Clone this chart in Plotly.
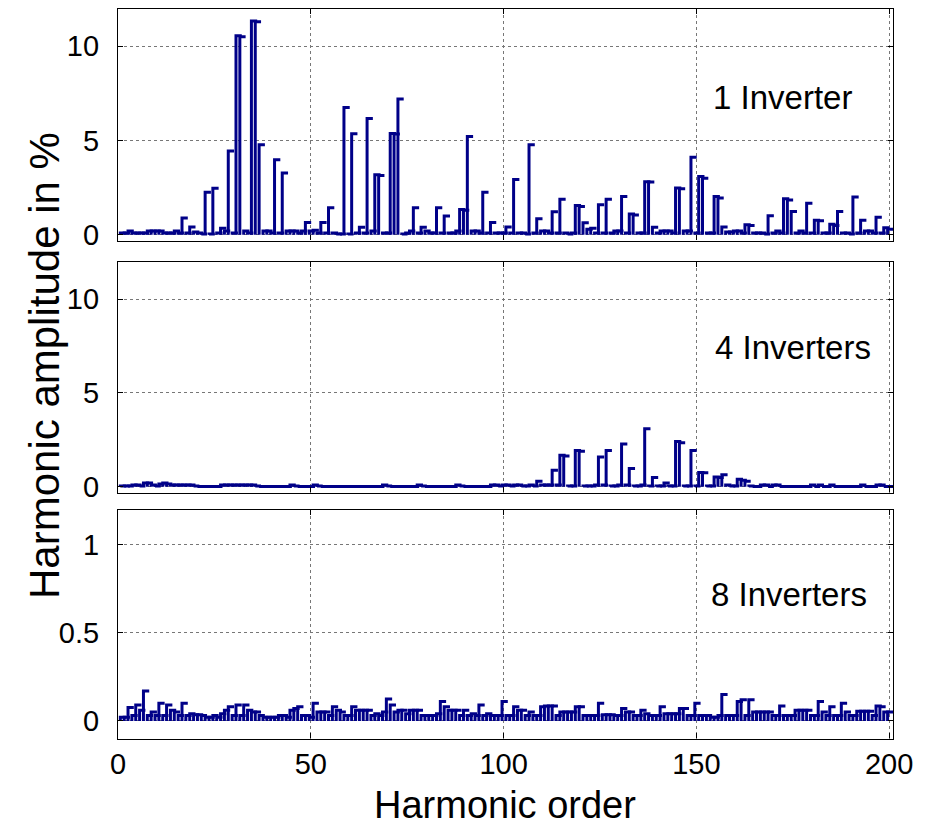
import plotly.graph_objects as go

harmonics = list(range(1, 201))

amp_1inv = [
    0.1, 0.1, 0.2, 0.1, 0.1, 0.1, 0.1, 0.2, 0.2, 0.2, 0.2, 0.1, 0.1, 0.1, 0.2, 0.1, 0.89, 0.1, 0.41, 0.15,
    0.1, 0.05, 2.26, 0.05, 2.47, 0.1, 0.35, 0.2, 4.44, 0.1, 10.56, 10.5, 0.2, 0.1, 11.34, 11.3, 4.78, 0.2, 0.2, 0.1,
    3.98, 0.1, 3.28, 0.2, 0.2, 0.2, 0.1, 0.2, 0.66, 0.2, 0.25, 0.1, 0.66, 0.1, 1.43, 0.1, 0.05, 0.05, 6.75, 0.05,
    5.36, 0.1, 0.4, 0.1, 6.17, 0.2, 3.19, 3.15, 0.1, 0.1, 5.37, 5.35, 7.2, 0.05, 0.1, 0.2, 1.43, 0.1, 0.4, 0.2,
    0.1, 0.1, 1.43, 0.1, 1.0, 0.1, 0.1, 0.2, 1.35, 1.3, 5.21, 0.2, 0.2, 0.1, 2.26, 0.1, 0.66, 0.1, 0.1, 0.1,
    0.41, 0.1, 2.93, 0.1, 0.1, 0.05, 4.78, 0.1, 0.85, 0.2, 0.2, 0.1, 1.22, 0.1, 1.89, 0.1, 0.05, 0.1, 1.56, 1.5,
    0.64, 0.3, 0.35, 0.1, 1.6, 0.1, 1.89, 0.1, 0.2, 0.2, 2.03, 0.1, 1.1, 1.05, 0.1, 0.1, 2.82, 2.8, 0.4, 0.1,
    0.2, 0.2, 0.2, 0.1, 2.49, 2.45, 0.2, 0.2, 4.11, 0.1, 3.09, 3.0, 0.1, 0.1, 2.03, 1.95, 0.41, 0.15, 0.15, 0.2,
    0.2, 0.1, 0.54, 0.5, 0.1, 0.1, 0.1, 0.05, 1.01, 0.1, 0.2, 0.1, 1.91, 1.85, 1.24, 0.1, 0.2, 0.1, 1.68, 0.1,
    0.77, 0.75, 0.1, 0.1, 0.56, 0.5, 1.24, 0.1, 0.1, 0.05, 2.0, 0.1, 0.77, 0.2, 0.2, 0.1, 0.93, 0.1, 0.38, 0.3,
]

amp_4inv = [
    0.05, 0.05, 0.05, 0.1, 0.1, 0.05, 0.2, 0.2, 0.1, 0.05, 0.15, 0.2, 0.15, 0.1, 0.1, 0.1, 0.1, 0.1, 0.1, 0.05,
    0.02, 0.02, 0.02, 0.02, 0.02, 0.02, 0.1, 0.1, 0.1, 0.1, 0.1, 0.1, 0.1, 0.1, 0.1, 0.05, 0.02, 0.02, 0.02, 0.02,
    0.02, 0.02, 0.02, 0.02, 0.1, 0.05, 0.02, 0.02, 0.02, 0.02, 0.1, 0.05, 0.02, 0.02, 0.02, 0.02, 0.02, 0.02, 0.02, 0.02,
    0.02, 0.02, 0.02, 0.02, 0.02, 0.02, 0.02, 0.02, 0.1, 0.05, 0.02, 0.02, 0.02, 0.02, 0.02, 0.02, 0.02, 0.1, 0.05, 0.02,
    0.02, 0.02, 0.02, 0.02, 0.02, 0.02, 0.02, 0.1, 0.05, 0.02, 0.02, 0.02, 0.02, 0.02, 0.02, 0.02, 0.1, 0.1, 0.05, 0.1,
    0.1, 0.05, 0.1, 0.1, 0.05, 0.05, 0.1, 0.05, 0.3, 0.1, 0.1, 0.1, 0.89, 0.1, 1.69, 1.65, 0.05, 0.05, 1.93, 1.9,
    0.05, 0.05, 0.05, 0.1, 1.59, 0.1, 1.93, 0.05, 0.05, 0.1, 2.28, 0.1, 0.98, 0.05, 0.05, 0.1, 3.09, 0.05, 0.5, 0.05,
    0.05, 0.2, 0.05, 0.05, 2.41, 2.35, 0.05, 0.05, 1.93, 0.05, 0.77, 0.75, 0.05, 0.05, 0.53, 0.5, 0.64, 0.1, 0.05, 0.05,
    0.4, 0.35, 0.3, 0.05, 0.02, 0.02, 0.1, 0.1, 0.02, 0.1, 0.1, 0.02, 0.02, 0.02, 0.02, 0.02, 0.02, 0.02, 0.02, 0.1,
    0.02, 0.1, 0.02, 0.02, 0.1, 0.02, 0.02, 0.02, 0.02, 0.02, 0.02, 0.02, 0.1, 0.02, 0.02, 0.02, 0.1, 0.1, 0.02, 0.02,
]

amp_8inv = [
    0.02, 0.02, 0.076, 0.03, 0.09, 0.06, 0.17, 0.03, 0.05, 0.03, 0.1, 0.03, 0.09, 0.06, 0.05, 0.03, 0.1, 0.03, 0.04, 0.035,
    0.035, 0.03, 0.02, 0.02, 0.03, 0.02, 0.04, 0.06, 0.08, 0.03, 0.09, 0.03, 0.09, 0.06, 0.05, 0.05, 0.03, 0.02, 0.02, 0.02,
    0.02, 0.03, 0.03, 0.02, 0.06, 0.07, 0.08, 0.03, 0.03, 0.02, 0.1, 0.05, 0.05, 0.05, 0.03, 0.08, 0.06, 0.05, 0.03, 0.03,
    0.08, 0.06, 0.06, 0.06, 0.06, 0.03, 0.04, 0.03, 0.05, 0.124, 0.09, 0.05, 0.06, 0.06, 0.04, 0.06, 0.06, 0.06, 0.03, 0.03,
    0.03, 0.03, 0.04, 0.11, 0.08, 0.06, 0.06, 0.06, 0.03, 0.06, 0.03, 0.04, 0.03, 0.09, 0.03, 0.04, 0.03, 0.03, 0.03, 0.11,
    0.03, 0.03, 0.08, 0.06, 0.06, 0.03, 0.05, 0.03, 0.03, 0.08, 0.085, 0.085, 0.085, 0.03, 0.05, 0.05, 0.05, 0.05, 0.08, 0.08,
    0.03, 0.03, 0.03, 0.03, 0.1, 0.035, 0.035, 0.035, 0.03, 0.03, 0.07, 0.05, 0.05, 0.03, 0.03, 0.06, 0.04, 0.03, 0.03, 0.03,
    0.08, 0.04, 0.04, 0.04, 0.04, 0.07, 0.07, 0.03, 0.03, 0.1, 0.03, 0.03, 0.03, 0.02, 0.02, 0.03, 0.15, 0.03, 0.03, 0.03,
    0.11, 0.12, 0.03, 0.12, 0.05, 0.05, 0.05, 0.05, 0.05, 0.03, 0.03, 0.085, 0.03, 0.03, 0.03, 0.06, 0.06, 0.06, 0.06, 0.03,
    0.03, 0.11, 0.05, 0.03, 0.08, 0.03, 0.03, 0.1, 0.05, 0.03, 0.03, 0.055, 0.055, 0.055, 0.055, 0.03, 0.085, 0.08, 0.05, 0.05,
]

panel_series = [amp_1inv, amp_4inv, amp_8inv]
panel_labels = ["1 Inverter", "4 Inverters", "8 Inverters"]
y_ranges = [[-0.3, 12], [-0.3, 12], [-0.1, 1.2]]
y_tickvals = [[0, 5, 10], [0, 5, 10], [0, 0.5, 1]]
y_ticktext = [["0", "5", "10"], ["0", "5", "10"], ["0", "0.5", "1"]]
x_tickvals = [0, 50, 100, 150, 200]
x_range = [0, 201]

BAR_COLOR = "#000088"
FONT = "Liberation Sans, Arial, sans-serif"
W, H = 937, 827

# pixel geometry of the three panels
x_px = (118, 893)
panels_px = [(8.5, 240.5), (261.5, 492.5), (509.5, 738.5)]
label_px = [(782, 97), (793, 347), (789, 594)]


def bar_path(h, v):
    xs, ys = [], []
    for hi, vi in zip(h, v):
        xs += [hi - 0.4, hi - 0.4, hi + 1.1, None]
        ys += [0, vi, vi, None]
    return xs, ys


fig = go.Figure()
layout = dict(
    width=W, height=H,
    margin=dict(l=0, r=0, t=0, b=0, pad=0, autoexpand=False),
    paper_bgcolor="white", plot_bgcolor="white",
    showlegend=False,
    font=dict(family=FONT, color="black"),
    annotations=[],
)

xdom = [x_px[0] / W, x_px[1] / W]
for i, (series, (top, bot)) in enumerate(zip(panel_series, panels_px)):
    n = "" if i == 0 else str(i + 1)
    xs, ys = bar_path(harmonics, series)
    fig.add_trace(go.Scatter(
        x=xs, y=ys, mode="lines", xaxis="x" + n, yaxis="y" + n,
        line=dict(color=BAR_COLOR, width=3), hoverinfo="skip",
    ))
    ydom = [1 - bot / H, 1 - top / H]
    layout["xaxis" + n] = dict(
        domain=xdom, range=x_range, anchor="y" + n, automargin=False,
        tickvals=x_tickvals, showticklabels=(i == 2),
        ticks="inside", ticklen=5, tickcolor="black",
        showline=True, linecolor="black", linewidth=1.2, mirror="ticks",
        showgrid=True, gridcolor="#777777", griddash="dot", gridwidth=1,
        zeroline=False, tickfont=dict(size=29, family=FONT),
        ticklabelstandoff=0,
    )
    layout["yaxis" + n] = dict(
        domain=ydom, range=y_ranges[i], anchor="x" + n, automargin=False,
        tickvals=y_tickvals[i], ticktext=y_ticktext[i],
        ticks="inside", ticklen=5, tickcolor="black",
        showline=True, linecolor="black", linewidth=1.2, mirror="ticks",
        showgrid=True, gridcolor="#777777", griddash="dot", gridwidth=1,
        zeroline=False, tickfont=dict(size=29, family=FONT),
        ticklabelstandoff=12,
    )
    lx, ly = label_px[i]
    layout["annotations"].append(dict(
        text=panel_labels[i], xref="paper", yref="paper",
        x=lx / W, y=1 - ly / H, xanchor="center", yanchor="middle",
        showarrow=False, font=dict(size=33, family=FONT, color="black"),
    ))

layout["annotations"].append(dict(
    text="Harmonic order", xref="paper", yref="paper",
    x=505 / W, y=0, xanchor="center", yanchor="bottom", borderpad=0,
    showarrow=False, font=dict(size=38, family=FONT, color="black"),
))
layout["annotations"].append(dict(
    text="Harmonic amplitude in %", xref="paper", yref="paper",
    x=44 / W, y=1 - 366 / H, xanchor="center", yanchor="middle", textangle=-90,
    showarrow=False, font=dict(size=42, family=FONT, color="black"),
))

fig.update_layout(**layout)
fig.write_html("out.html")
